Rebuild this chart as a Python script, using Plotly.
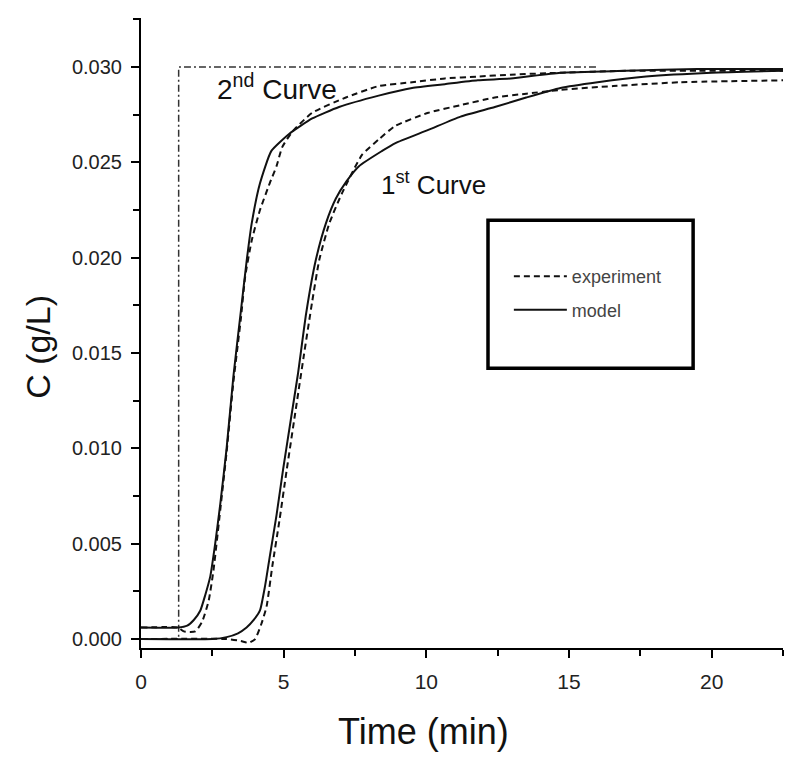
import plotly.graph_objects as go

# время, мин / концентрация, г/л
t_step = [0, 1.32, 1.32, 16.0]
c_step = [0.0, 0.0, 0.030, 0.030]

t_mod2 = [0, 1.3, 1.62, 1.85, 2.08, 2.25, 2.43, 2.6, 2.78, 3.0, 3.24, 3.5, 3.7, 3.88,
          4.17, 4.57, 5.2, 6.0, 6.94, 8.33, 9.5, 10.65, 11.8, 12.96, 14.7, 17, 19.5, 22.5]
c_mod2 = [0.0006, 0.0006, 0.0007, 0.0010, 0.0015, 0.0023, 0.0033, 0.0050, 0.0071, 0.0100,
          0.0138, 0.0172, 0.0198, 0.0218, 0.0239, 0.0256, 0.0265, 0.0273, 0.0279, 0.0285,
          0.0289, 0.0291, 0.0293, 0.0294, 0.0297, 0.0298, 0.0299, 0.0299]

t_exp2 = [0, 1.3, 1.5, 1.9, 2.14, 2.37, 2.54, 2.78, 3.0, 3.24, 3.5, 3.65, 3.88, 4.17, 4.51,
          4.75, 4.95, 5.3, 6.0, 7.18, 8.33, 9.5, 10.65, 11.8, 12.96, 14.7, 17, 19.5, 22.5]
c_exp2 = [0.0006, 0.0006, 0.0004, 0.0004, 0.0009, 0.0020, 0.0036, 0.0068, 0.0098, 0.0135,
          0.0168, 0.0190, 0.0209, 0.0225, 0.0239, 0.0248, 0.0258, 0.0266, 0.0276, 0.0284,
          0.0290, 0.0292, 0.0294, 0.0295, 0.0296, 0.0297, 0.0298, 0.0298, 0.0298]

t_mod1 = [0, 2.5, 3.0, 3.4, 3.7, 3.95, 4.17, 4.35, 4.51, 4.75, 4.98, 5.25, 5.5, 5.79, 6.13,
          6.48, 6.83, 7.2, 7.64, 8.45, 8.9, 10.07, 11.2, 12.4, 13.5, 14.7, 16, 17.7, 20, 22.5]
c_mod1 = [0.0, 0.0, 0.0001, 0.0003, 0.0006, 0.0010, 0.0015, 0.0028, 0.0043, 0.0065, 0.0089,
          0.0115, 0.0139, 0.0171, 0.0199, 0.0218, 0.0231, 0.0240, 0.0248, 0.0256, 0.0260,
          0.0267, 0.0274, 0.0279, 0.0284, 0.0289, 0.0292, 0.0295, 0.0297, 0.0298]

t_exp1 = [0, 3.0, 3.5, 3.76, 4.0, 4.22, 4.4, 4.6, 4.85, 5.1, 5.4, 5.7, 6.0, 6.25, 6.6, 7.05,
          7.75, 8.33, 8.9, 10.07, 11.2, 12.4, 13.5, 14.7, 16.55, 18.9, 22.5]
c_exp1 = [0.0, 0.0, -0.0001, -0.0002, 0.0, 0.0008, 0.0017, 0.0038, 0.0062, 0.0088, 0.0118,
          0.0148, 0.0177, 0.0199, 0.0218, 0.0234, 0.0254, 0.0262, 0.0269, 0.0276, 0.0280,
          0.0284, 0.0286, 0.0288, 0.0290, 0.0292, 0.0293]

FONT = "Liberation Sans, Arial, sans-serif"
dash_exp = "6px,4px"

fig = go.Figure()

# ступенчатый вход
fig.add_trace(go.Scatter(x=t_step, y=c_step, mode="lines", showlegend=False,
                         line=dict(color="#333", width=1.5, dash="7px,3px,2px,3px")))

fig.add_trace(go.Scatter(x=t_mod2, y=c_mod2, mode="lines", name="model", legendgroup="m",
                         legendrank=2, line=dict(color="#111", width=2, shape="spline", smoothing=0.5)))
fig.add_trace(go.Scatter(x=t_exp2, y=c_exp2, mode="lines", name="experiment", legendgroup="e",
                         legendrank=1, line=dict(color="#111", width=2, dash=dash_exp,
                                                 shape="spline", smoothing=0.5)))
fig.add_trace(go.Scatter(x=t_mod1, y=c_mod1, mode="lines", showlegend=False,
                         line=dict(color="#111", width=2, shape="spline", smoothing=0.5)))
fig.add_trace(go.Scatter(x=t_exp1, y=c_exp1, mode="lines", showlegend=False,
                         line=dict(color="#111", width=2, dash=dash_exp, shape="spline", smoothing=0.5)))

fig.add_annotation(x=2.59, y=0.02895, xanchor="left", text="2<sup>nd</sup> Curve",
                   showarrow=False, font=dict(family=FONT, size=28, color="#111"))
fig.add_annotation(x=8.34, y=0.0239, xanchor="left", text="1<sup>st</sup> Curve",
                   showarrow=False, font=dict(family=FONT, size=26, color="#111"))

# подписи осей
fig.add_annotation(xref="paper", yref="paper", x=0.4408, y=0, xanchor="center", yanchor="top",
                   yshift=-61, text="Time (min)", showarrow=False,
                   font=dict(family=FONT, size=36, color="#111"))
fig.add_annotation(xref="paper", yref="paper", x=0, y=0.478, xanchor="center", yanchor="middle",
                   xshift=-103, textangle=-90, text="C (g/L)", showarrow=False,
                   font=dict(family=FONT, size=34, color="#111"))

# рамка легенды
fig.add_shape(type="rect", xref="paper", yref="paper", x0=0.5405, x1=0.860, y0=0.444, y1=0.679,
              line=dict(color="black", width=3.5))

fig.update_layout(
    width=792, height=749,
    margin=dict(l=133, r=17, t=10, b=109),
    plot_bgcolor="white", paper_bgcolor="white",
    font=dict(family=FONT, color="#222"),
    legend=dict(x=0.573, y=0.619, xanchor="left", yanchor="top", bgcolor="rgba(0,0,0,0)",
                itemwidth=53, tracegroupgap=7, font=dict(size=18, color="#444")),
)

fig.update_xaxes(range=[0, 22.5], dtick=5, showgrid=False, zeroline=False,
                 showline=True, linecolor="black", linewidth=2,
                 ticks="outside", ticklen=8, tickwidth=2, tickcolor="black", ticklabelstandoff=6,
                 minor=dict(dtick=2.5, ticks="outside", ticklen=6, tickwidth=2, tickcolor="black"),
                 tickfont=dict(size=21, color="#222"))
fig.update_yaxes(range=[-0.00047, 0.03257], dtick=0.005, tick0=0, tickformat=".3f",
                 showgrid=False, zeroline=False,
                 showline=True, linecolor="black", linewidth=2,
                 ticks="outside", ticklen=8, tickwidth=2, tickcolor="black", ticklabelstandoff=5,
                 minor=dict(dtick=0.0025, ticks="outside", ticklen=6, tickwidth=2, tickcolor="black"),
                 tickfont=dict(size=20, color="#222"))

fig.write_html("out.html")
